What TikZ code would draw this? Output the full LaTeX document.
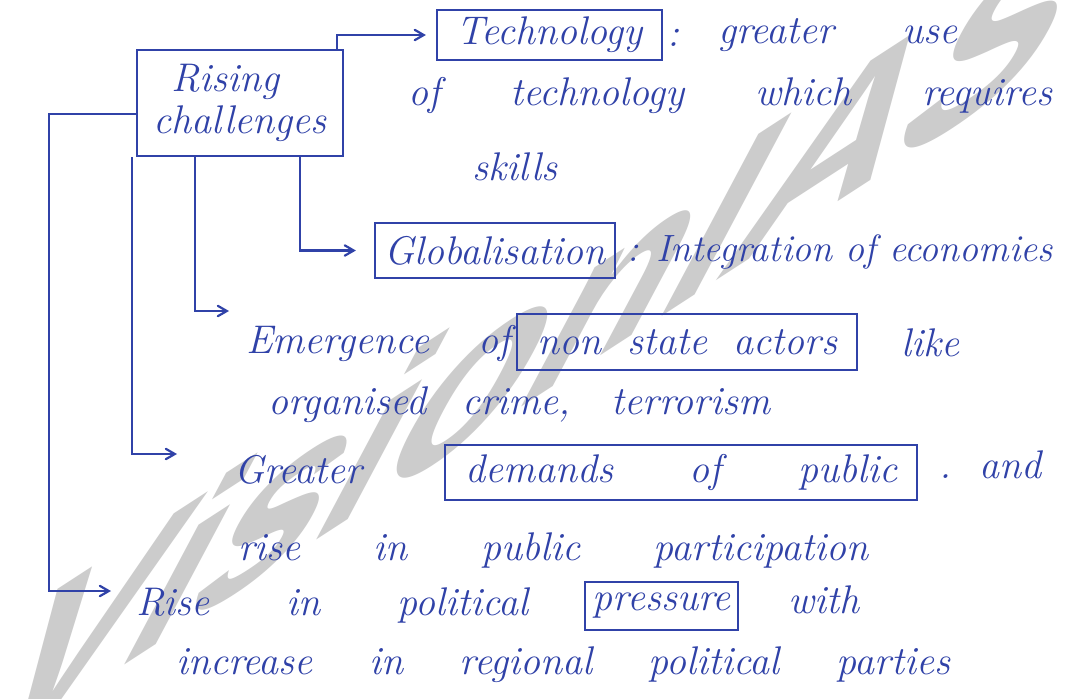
\documentclass[tikz,border=0pt]{standalone}
\usepackage{fontspec}
\newfontfamily\markfont{Liberation Sans}
\usetikzlibrary{arrows}
\definecolor{ink}{RGB}{48,66,168}

\begin{document}
\begin{tikzpicture}[->,>=angle 60,x=0.5pt,y=-0.5pt,line width=1.1pt,ink,
                    every node/.style={font=\itshape\fontsize{20}{21}\selectfont},
                    box/.style={draw,rectangle,inner sep=0pt},
                    words/.style={anchor=west,inner sep=0pt}]
  \fill[white,-] (0,0) rectangle (1077,698);
  \useasboundingbox (0,0) rectangle (1077,698);

  % watermark
  \begin{scope}[shift={(545,330)},cm={1.152,0.748,0.704,1.324,(0,0)}]
    \node[transform shape,text=black!20,font=\markfont\bfseries\fontsize{100}{100}\selectfont] (mark) {VisionIAS};
  \end{scope}

  \node[box,align=left,minimum width=103pt,minimum height=53pt] (rising) at (240,103) {\hspace{9pt}Rising\\challenges};

  \node[box,minimum width=112.5pt,minimum height=25pt] (tech) at (549.5,35) {Technology};
  \node[words] (techcolon) at (666,38) {:};
  \node[words] (greateruse) at (717,35) {\makebox[119.5pt][s]{greater use}};
  \node[words] (techline) at (407,95) {\makebox[322pt][s]{of technology which requires}};
  \node[words] (skills) at (471,167) {skills};

  \node[box,minimum width=120pt,minimum height=27.5pt] (glob) at (495,250.5) {Globalisation};
  \node[words,font=\itshape\fontsize{19}{21}\selectfont] (integ) at (626,252) {: Integration of economies};

  \node[words] (emerg) at (245,343) {\makebox[132pt][s]{Emergence of}};
  \node[box,minimum width=170pt,minimum height=28pt] (actors) at (687,342) {\makebox[150pt][s]{non state actors}};
  \node[words] (like) at (900,343) {like};
  \node[words] (crime) at (267,405) {\makebox[251pt][s]{organised crime, terrorism}};

  \node[words] (greater) at (233,470) {Greater};
  \node[box,minimum width=236pt,minimum height=27.5pt] (demands) at (681,472.5) {\makebox[216pt][s]{demands of public}};
  \node[words] (and) at (938,465) {.\ \ and};
  \node[words] (partic) at (237,550) {\makebox[315pt][s]{rise in public participation}};

  \node[words] (rise) at (135,605) {\makebox[196pt][s]{Rise in political}};
  \node[box,minimum width=76.5pt,minimum height=24pt] (pressure) at (661.5,606) {pressure};
  \node[words] (with) at (787,600) {with};
  \node[words] (regional) at (175,665) {\makebox[387pt][s]{increase in regional political parties}};

  % branches
  \draw[shorten >=5pt] ([xshift=-3.5pt]rising.north east) |- (tech);
  \draw[shorten >=9pt] ([xshift=30pt]rising.south) |- (glob);
  \draw[shorten >=8pt] ([xshift=-22.5pt]rising.south) |- ([yshift=16pt]emerg.west);
  \draw[shorten >=28pt] ([xshift=-2pt]rising.south west) |- ([yshift=8pt]greater.west);
  \draw[shorten >=12pt] ([yshift=-5.5pt]rising.west) -- ++(-87,0) |- ([yshift=7pt]rise.west);
\end{tikzpicture}
\end{document}
